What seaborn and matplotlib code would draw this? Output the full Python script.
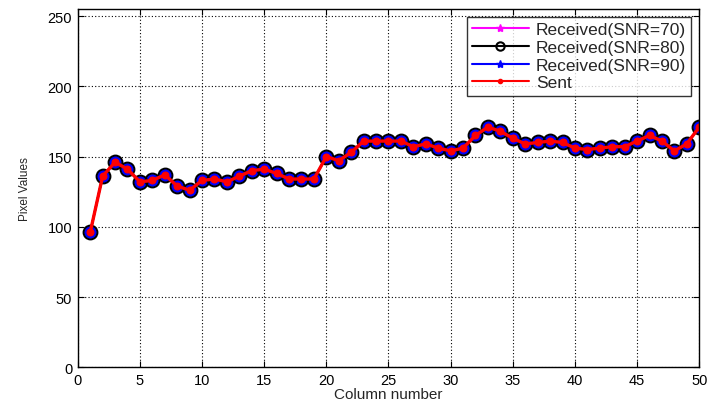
import matplotlib
matplotlib.use("Agg")
import matplotlib.pyplot as plt
from matplotlib.lines import Line2D
import seaborn as sns
import pandas as pd

# column index and pixel values
columns = list(range(1, 51))
sent = [96, 136, 146, 141, 132, 133, 137, 129, 126, 133,
        134, 132, 136, 140, 141, 138, 134, 134, 134, 150,
        147, 153, 161, 161, 161, 161, 157, 159, 156, 154,
        156, 165, 171, 168, 163, 159, 160, 161, 160, 156,
        155, 156, 157, 157, 161, 165, 161, 154, 159, 171]
# received images are identical to the sent one at these SNRs
recv_snr70 = list(sent)
recv_snr80 = list(sent)
recv_snr90 = list(sent)

labels = ["Received(SNR=70)", "Received(SNR=80)", "Received(SNR=90)", "Sent"]

df = pd.DataFrame({"col": columns, "snr70": recv_snr70, "snr80": recv_snr80,
                   "snr90": recv_snr90, "sent": sent})

sns.set_style("ticks")
plt.rcParams['font.family'] = ['Liberation Sans', 'DejaVu Sans']

fig = plt.figure(figsize=(7.07, 4.10), dpi=100)
ax = fig.add_axes([0.110, 0.1017, 0.879, 0.8739])

sns.lineplot(data=df, x="col", y="snr70", ax=ax, color="magenta", lw=1.5,
             marker="*", markersize=6, markeredgecolor="magenta")
sns.lineplot(data=df, x="col", y="snr90", ax=ax, color="blue", lw=1.5,
             marker="o", markersize=9, markeredgecolor="blue")
sns.lineplot(data=df, x="col", y="snr80", ax=ax, color="black", lw=1.5,
             marker="o", markersize=10, markerfacecolor="none",
             markeredgecolor="black", markeredgewidth=1.4)
sns.lineplot(data=df, x="col", y="sent", ax=ax, color="red", lw=2.4,
             marker="o", markersize=5, markeredgecolor="red")

ax.set_xlim(0, 50)
ax.set_ylim(0, 255)
ax.set_xticks(range(0, 51, 5))
ax.set_yticks(range(0, 251, 50))
ax.grid(True, color="black", linestyle=(0, (1, 2)), linewidth=0.8)
for s in ax.spines.values():
    s.set_visible(True)
    s.set_color("black")
    s.set_linewidth(1.0)
ax.tick_params(direction="in", top=True, right=True, labelsize=10.5,
               length=4, colors="black", pad=4)
ax.set_xlabel("Column number", fontsize=11, labelpad=0)
ax.set_ylabel("Pixel Values", fontsize=8.5, labelpad=12)

handles = [
    Line2D([], [], color="magenta", lw=1.5, marker="*", markersize=6),
    Line2D([], [], color="black", lw=1.5, marker="o", markersize=6,
           markerfacecolor="none", markeredgewidth=1.5),
    Line2D([], [], color="blue", lw=1.5, marker="*", markersize=6),
    Line2D([], [], color="red", lw=1.5, marker=".", markersize=6),
]
leg = ax.legend(handles, labels, loc="upper right", fontsize=12.5,
                frameon=True, fancybox=False, edgecolor="black",
                borderaxespad=0.45, handlelength=3.3, labelspacing=0.15,
                borderpad=0.3, handletextpad=0.4)
leg.get_frame().set_linewidth(1.0)

fig.savefig("out.png", dpi=100)
